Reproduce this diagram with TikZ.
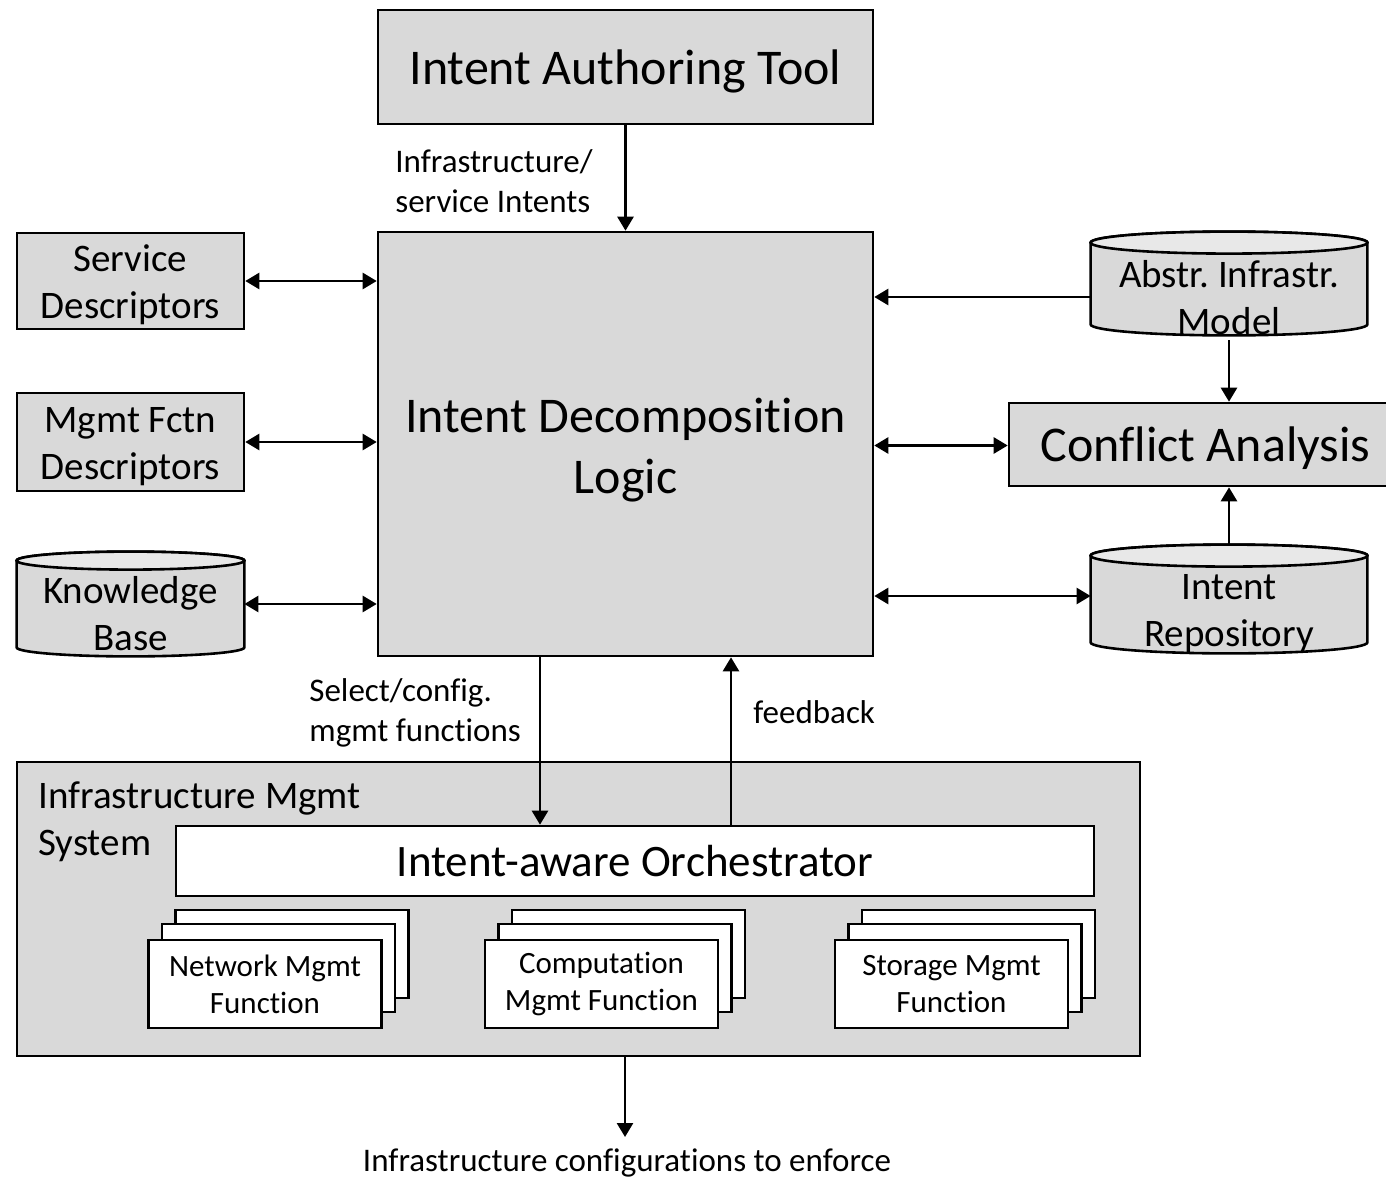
\documentclass[tikz,border=0pt]{standalone}
\usepackage{fontspec}
\setmainfont{Carlito}[Ligatures={NoCommon}]
\usetikzlibrary{arrows.meta,calc}
\frenchspacing
\definecolor{boxgray}{HTML}{D9D9D9}
\definecolor{topgray}{HTML}{E8E8E8}
\newcommand\bigf{\fontsize{25}{30.5}\selectfont}
\newcommand\orchf{\fontsize{22.5}{27}\selectfont}
\newcommand\medf{\fontsize{19.5}{23.5}\selectfont}
\newcommand\lblf{\fontsize{16.5}{20}\selectfont}
\newcommand\fnf{\fontsize{15.5}{18.5}\selectfont}
\newcommand\lowtxt[2]{\raisebox{-#1}[\height][\depth]{\begin{tabular}{@{}c@{}}#2\end{tabular}}}
\newcommand\DrawCyl[2]{%
  \path[draw, line width=1.3pt, fill=boxgray] let \p1=(#1.north west), \p2=(#1.south east), \n1={(\x2-\x1)/2} in
    (\x1,{\y1-#2}) -- (\x1,{\y2+#2}) arc[start angle=180, end angle=360, x radius=\n1, y radius=#2]
    -- (\x2,{\y1-#2}) arc[start angle=0, end angle=180, x radius=\n1, y radius=#2] -- cycle;
  \path[draw, line width=1.3pt, fill=topgray] let \p1=(#1.north west), \p2=(#1.south east), \n1={(\x2-\x1)/2} in
    ({(\x1+\x2)/2},{\y1-#2}) ellipse[x radius=\n1, y radius=#2];
}
\tikzset{
  box/.style={draw, line width=1.3pt, fill=boxgray, inner sep=0pt, align=center},
  wbox/.style={draw, line width=1.3pt, fill=white, inner sep=0pt, align=center},
  cylnode/.style={draw=none, inner sep=0pt},
  conn/.style={line width=1.3pt, -{Triangle[width=8pt,length=7pt]}},
  biconn/.style={line width=1.3pt, {Triangle[width=8pt,length=7pt]}-{Triangle[width=8pt,length=7pt]}},
  lbl/.style={inner sep=0pt, align=left, font=\lblf},
}
\begin{document}
\begin{tikzpicture}[x=0.5pt,y=-0.5pt]
\clip (0,0) rectangle (1386,1177);
\fill[white] (0,0) rectangle (1386,1177);

% main boxes
\node[box, minimum width=247.5pt, minimum height=57pt, font=\bigf, text depth=0pt] (auth) at (625.5,67) {Intent Authoring Tool};
\node[box, minimum width=247.5pt, minimum height=212pt, font=\bigf] (idl) at (625.5,444) {\lowtxt{3.5pt}{Intent Decomposition\\Logic}};

% left side
\node[box, minimum width=113.5pt, minimum height=48pt, font=\medf] (sd) at (130.5,281) {\lowtxt{2.5pt}{Service\\Descriptors}};
\node[box, minimum width=113.5pt, minimum height=49pt, font=\medf] (mfd) at (130.5,442) {\lowtxt{2.5pt}{Mgmt Fctn\\Descriptors}};
\node[cylnode, minimum width=113.5pt, minimum height=52pt] (kb) at (130.5,604) {};
\DrawCyl{kb}{4.5pt}
\node[inner sep=0pt, align=center, font=\medf] (kbt) at ($(kb)+(0,10)$) {Knowledge\\Base};

% right side
\node[cylnode, minimum width=138pt, minimum height=51.5pt] (aim) at (1229,283.5) {};
\DrawCyl{aim}{5.5pt}
\node[inner sep=0pt, align=center, font=\medf] (aimt) at ($(aim)+(0,14)$) {Abstr. Infrastr.\\Model};
\node[box, minimum width=196.5pt, minimum height=41.5pt, font=\bigf, text depth=0pt] (ca) at (1205.5,444.5) {Conflict Analysis};
\node[cylnode, minimum width=138pt, minimum height=54pt] (ir) at (1229,599) {};
\DrawCyl{ir}{5.5pt}
\node[inner sep=0pt, align=center, font=\medf] (irt) at ($(ir)+(0,15)$) {Intent\\Repository};

% management system
\node[box, minimum width=561.5pt, minimum height=147pt] (ims) at (578.5,909) {};
\node[lbl, font=\medf, anchor=west] (imst) at (38,822) {Infrastructure Mgmt\\System};
\node[wbox, minimum width=459pt, minimum height=35pt, font=\orchf, text depth=0pt] (orch) at (635,861) {Intent-aware Orchestrator};

\foreach \nm/\cx/\txt in {nmf/265/{Network Mgmt\\Function}, cmf/601.5/{Computation\\Mgmt Function}, smf/951.5/{Storage Mgmt\\Function}}{
  \node[wbox, minimum width=116.5pt, minimum height=44pt] (\nm3) at (\cx+27,954) {};
  \node[wbox, minimum width=116.5pt, minimum height=44pt] (\nm2) at (\cx+13.5,968) {};
  \node[wbox, minimum width=116.5pt, minimum height=44pt, font=\fnf] (\nm) at (\cx,984) {\txt};
}

% connectors
\draw[conn] (auth) -- (idl);
\node[lbl, anchor=west] (lin) at (395,181) {Infrastructure/\\service Intents};

\draw[biconn] (sd.east) -- (sd.east -| idl.west);
\draw[biconn] (mfd.east) -- (mfd.east -| idl.west);
\draw[biconn] (kb.east) -- (kb.east -| idl.west);

\coordinate (aimout) at ($(aim.west)+(0,13.5)$);
\draw[conn] (aimout) -- (aimout -| idl.east);
\draw[conn] ([yshift=-2.5pt]aim.south) -- (aim.south |- ca.north);
\draw[biconn] ([yshift=-0.75pt]idl.east) -- ([yshift=-0.75pt]idl.east -| ca.west);
\coordinate (irin) at ($(ir.west)+(0,-3)$);
\draw[biconn] (irin -| idl.east) -- (irin);
\draw[conn] (ir.north) -- (ir.north |- ca.south);

\draw[conn] ([xshift=-42.75pt]idl.south) -- ([xshift=-42.75pt]idl.south |- orch.north);
\draw[conn] ([xshift=52.75pt]idl.south |- orch.north) -- ([xshift=52.75pt]idl.south);
\node[lbl, anchor=west] (lsel) at (309,713) {Select/config.\\mgmt functions};
\node[lbl, anchor=west] (lfb) at (753,712) {feedback};

\coordinate (out) at (625,1137);
\draw[conn] (ims.south -| out) -- (out);
\node[lbl, align=center] (lout) at (627,1163) {Infrastructure configurations to enforce};
\end{tikzpicture}
\end{document}
